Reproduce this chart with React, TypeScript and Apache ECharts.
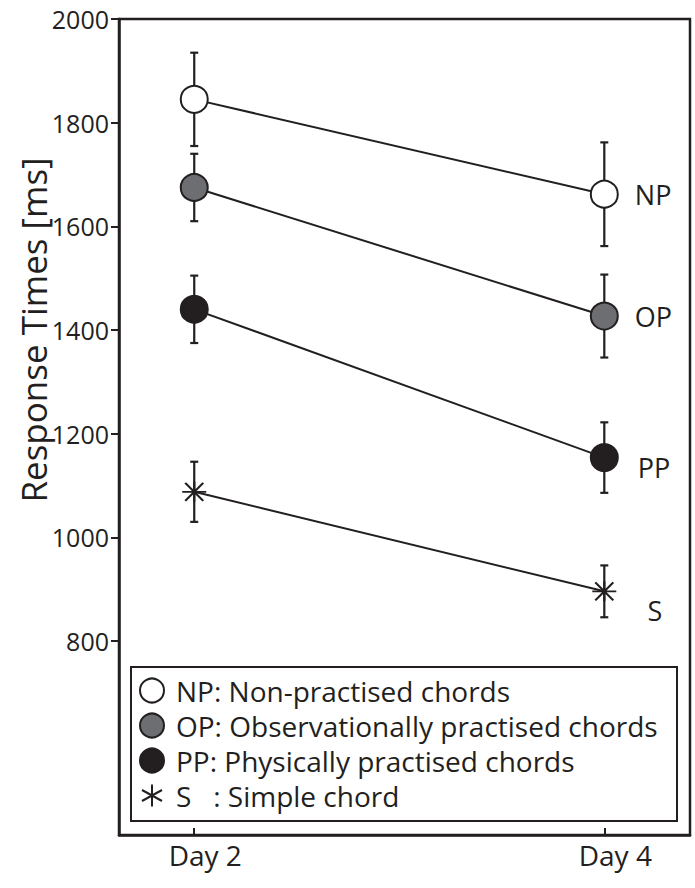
import React, { useEffect, useRef } from "react";
import * as echarts from "echarts";

// ---- data ----
const days = ["Day 2", "Day 4"];
const dayX = [2, 4];
const legendNames = [
  "NP: Non-practised chords",
  "OP: Observationally practised chords",
  "PP: Physically practised chords",
  "S   : Simple chord",
];
const shortLabels = ["NP", "OP", "PP", "S"];
const npMean = [1845, 1662];
const npErr = [90, 100];
const opMean = [1675, 1427];
const opErr = [65, 80];
const ppMean = [1440, 1154];
const ppErr = [65, 68];
const sMean = [1088, 896];
const sErr = [58, 50];
const yTicks = [800, 1000, 1200, 1400, 1600, 1800, 2000];

// ---- styles ----
const DARK = "#231f20";
const FONT = "'Open Sans', sans-serif";
const ASTERISK = "path://M0 10 L24 10 M12 0 L12 20 M3 1 L21 19 M21 1 L3 19";
const ASTERISK_LEGEND = "path://M0 0 M24 24 M12 1 L12 23 M2 6.5 L22 17.5 M22 6.5 L2 17.5";
const seriesStyles = [
  { fill: "#ffffff", symbol: "circle", size: 27, icon: "circle", labelOffset: [0, 0], labelDist: 16 },
  { fill: "#6d6e71", symbol: "circle", size: 27, icon: "circle", labelOffset: [0, 0], labelDist: 16 },
  { fill: DARK, symbol: "circle", size: 27, icon: "circle", labelOffset: [3, 10], labelDist: 16 },
  { fill: "transparent", symbol: ASTERISK, size: [24, 20], icon: ASTERISK_LEGEND, labelOffset: [14, 19], labelDist: 16 },
];

const means = [npMean, opMean, ppMean, sMean];
const errs = [npErr, opErr, ppErr, sErr];

function errorRender(params: any, api: any) {
  const x = api.value(0);
  const lo = api.coord([x, api.value(1)]);
  const hi = api.coord([x, api.value(2)]);
  const hw = 4;
  const style = { stroke: DARK, lineWidth: 2.2 };
  return {
    type: "group",
    children: [
      { type: "line", shape: { x1: hi[0], y1: hi[1], x2: lo[0], y2: lo[1] }, style },
      { type: "line", shape: { x1: hi[0] - hw, y1: hi[1], x2: hi[0] + hw, y2: hi[1] }, style },
      { type: "line", shape: { x1: lo[0] - hw, y1: lo[1], x2: lo[0] + hw, y2: lo[1] }, style },
    ],
  };
}

export default function App() {
  const ref = useRef<HTMLDivElement>(null);
  useEffect(() => {
    if (!ref.current) return;
    const chart = echarts.init(ref.current, undefined, { renderer: "svg" });

    const errorSeries = means.map((m, si) => ({
      type: "custom",
      renderItem: errorRender,
      encode: { x: 0, y: [1, 2] },
      data: dayX.map((x, i) => [x, m[i] - errs[si][i], m[i] + errs[si][i]]),
      z: 1,
      silent: true,
    }));

    const lineSeries = means.map((m, si) => {
      const st = seriesStyles[si];
      return {
        type: "line",
        name: legendNames[si],
        symbol: st.symbol,
        symbolSize: st.size,
        z: 3,
        itemStyle: { color: st.fill, borderColor: DARK, borderWidth: 2, opacity: 1 },
        lineStyle: { color: DARK, width: 2 },
        data: dayX.map((x, i) => {
          const item: any = { value: [x, m[i]] };
          if (i === dayX.length - 1) {
            item.label = {
              show: true,
              formatter: shortLabels[si],
              position: "right",
              distance: st.labelDist,
              offset: st.labelOffset,
              fontSize: 27,
              fontFamily: FONT,
              color: DARK,
            };
          }
          return item;
        }),
      };
    });

    chart.setOption({
      animation: false,
      backgroundColor: "#ffffff",
      grid: {
        left: 119,
        right: 5,
        top: 19,
        bottom: 53,
        show: true,
        borderColor: DARK,
        borderWidth: 2.5,
        backgroundColor: "transparent",
      },
      xAxis: {
        type: "value",
        min: 1.633,
        max: 4.418,
        axisLine: { show: true, lineStyle: { color: DARK, width: 2.5 } },
        axisTick: { show: true, inside: true, length: 7, customValues: dayX, lineStyle: { color: DARK, width: 2 } },
        axisLabel: {
          customValues: dayX,
          formatter: (v: number) => days[dayX.indexOf(v)] ?? "",
          fontSize: 28,
          fontFamily: FONT,
          color: DARK,
          margin: 6,
          padding: [0, 0, 0, 22],
        },
        splitLine: { show: false },
      },
      yAxis: {
        type: "value",
        min: 426,
        max: 2000,
        axisLine: { show: true, lineStyle: { color: DARK, width: 2.5 } },
        axisTick: { show: true, inside: false, length: 8, customValues: yTicks, lineStyle: { color: DARK, width: 2 } },
        axisLabel: {
          customValues: yTicks,
          formatter: (v: number) => String(v),
          fontSize: 25,
          fontFamily: FONT,
          color: DARK,
          margin: 10,
        },
        splitLine: { show: false },
      },
      legend: {
        orient: "vertical",
        left: 139,
        top: 673,
        itemWidth: 24,
        itemHeight: 24,
        itemGap: 0,
        padding: 0,
        selectedMode: false,
        data: legendNames.map((n, i) => ({ name: n, icon: seriesStyles[i].icon })),
        textStyle: {
          fontSize: 28,
          fontFamily: FONT,
          color: DARK,
          lineHeight: 35,
          padding: [0, 0, 0, 7],
        },
      },
      graphic: [
        {
          type: "rect",
          shape: { x: 131, y: 667, width: 546, height: 154 },
          style: { fill: "none", stroke: DARK, lineWidth: 2 },
          z: 0,
        },
        {
          type: "text",
          x: 33,
          y: 330,
          rotation: Math.PI / 2,
          style: {
            text: "Response Times [ms]",
            font: `35px ${FONT}`,
            fill: DARK,
            align: "center",
            verticalAlign: "middle",
          },
        },
      ],
      series: [...errorSeries, ...lineSeries],
    });
    return () => chart.dispose();
  }, []);
  return <div ref={ref} style={{ position: "fixed", left: 0, top: 0, width: 695, height: 888 }} />;
}
